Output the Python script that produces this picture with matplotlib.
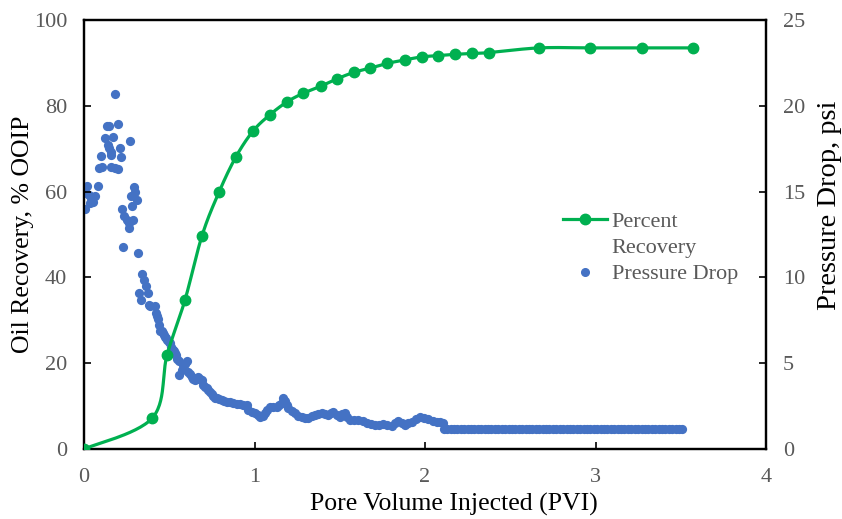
import numpy as np
import matplotlib
matplotlib.use('Agg')
import matplotlib.pyplot as plt
from matplotlib.lines import Line2D

# Percent recovery (left axis)
rec_pv = [0.0, 0.40, 0.487, 0.592, 0.692, 0.792, 0.891, 0.991, 1.09, 1.19, 1.285,
          1.39, 1.485, 1.583, 1.68, 1.78, 1.883, 1.98, 2.078, 2.176, 2.275, 2.373,
          2.67, 2.97, 3.27, 3.57]
rec_pct = [0.0, 7.2, 21.9, 34.7, 49.7, 59.9, 68.1, 74.1, 77.9, 80.9, 82.9,
           84.6, 86.3, 87.8, 88.8, 89.9, 90.7, 91.4, 91.7, 92.0, 92.2, 92.4,
           93.5, 93.5, 93.5, 93.5]

# Pressure drop (right axis), noisy part
dp_pv = [0.0, 0.006, 0.012, 0.019, 0.028, 0.035, 0.041, 0.051, 0.066, 0.080,
         0.090, 0.101, 0.106, 0.123, 0.135, 0.147, 0.139, 0.148, 0.158, 0.160,
         0.158, 0.172, 0.184, 0.198, 0.184, 0.201, 0.211, 0.219, 0.272, 0.223,
         0.236, 0.250, 0.266, 0.289, 0.262, 0.276, 0.282, 0.295, 0.301, 0.311,
         0.230, 0.315, 0.340, 0.354, 0.364, 0.374, 0.324, 0.334, 0.379, 0.390,
         0.418, 0.422, 0.436, 0.446, 0.462, 0.475, 0.489, 0.504, 0.514, 0.530,
         0.540, 0.547, 0.559, 0.602, 0.582, 0.573, 0.559, 0.612, 0.632, 0.651,
         0.670, 0.690, 0.700, 0.720, 0.739, 0.758, 0.778, 0.808, 0.837, 0.876,
         0.915, 0.954, 0.964, 1.003, 1.032, 1.062, 1.091, 1.130, 1.160, 1.179,
         1.198, 1.238, 1.277, 1.316, 1.355, 1.394, 1.433, 1.462, 1.501, 1.531,
         1.560, 1.609, 1.658, 1.707, 1.755, 1.805, 1.843, 1.883, 1.922, 1.971,
         2.019, 2.069, 2.107,
         0.430, 0.440, 0.455, 0.468, 0.482, 0.497, 0.510, 0.522, 0.535, 0.590,
         0.620, 0.640, 0.660, 0.680, 0.710, 0.730, 0.750, 0.770, 0.790, 0.820,
         0.855, 0.895, 0.935, 0.985, 1.018, 1.047, 1.076, 1.110, 1.145, 1.170,
         1.190, 1.218, 1.258, 1.297, 1.335, 1.375, 1.414, 1.448, 1.482, 1.516,
         1.545, 1.585, 1.634, 1.683, 1.731, 1.780, 1.824, 1.863, 1.902, 1.946,
         1.995, 2.044, 2.088]
dp_psi = [0.0, 13.97, 14.90, 15.33, 14.80, 14.32, 14.61, 14.41, 14.74, 15.33,
          16.36, 17.07, 16.42, 18.11, 18.84, 18.84, 17.72, 17.52, 17.33, 17.13,
          16.45, 18.16, 16.36, 16.30, 20.69, 18.94, 17.52, 17.02, 17.97, 13.97,
          13.58, 13.35, 13.15, 13.35, 12.86, 14.74, 14.16, 15.29, 14.99, 14.51,
          11.75, 11.40, 10.20, 9.85, 9.50, 9.11, 9.07, 8.68, 8.39, 8.36,
          8.33, 7.91, 7.56, 6.89, 6.78, 6.54, 6.35, 6.16, 5.81, 5.73,
          5.48, 5.23, 5.15, 5.15, 4.90, 4.60, 4.31, 4.50, 4.18, 4.02,
          4.18, 4.02, 3.73, 3.54, 3.34, 3.09, 2.95, 2.86, 2.76, 2.66,
          2.62, 2.56, 2.27, 2.08, 1.88, 2.08, 2.47, 2.47, 2.66, 2.81,
          2.37, 2.08, 1.88, 1.79, 1.98, 2.08, 1.98, 2.17, 1.88, 2.12,
          1.69, 1.69, 1.53, 1.40, 1.46, 1.34, 1.65, 1.40, 1.59, 1.85,
          1.73, 1.59, 1.53,
          7.75, 7.20, 6.85, 6.65, 6.45, 6.25, 5.95, 5.77, 5.60, 4.95,
          4.35, 4.10, 4.10, 4.10, 3.62, 3.45, 3.20, 3.00, 2.90, 2.82,
          2.72, 2.64, 2.58, 2.15, 1.98, 1.95, 2.30, 2.42, 2.55, 2.95,
          2.55, 2.20, 1.95, 1.82, 1.90, 2.05, 2.02, 2.10, 1.98, 2.02,
          1.85, 1.70, 1.62, 1.45, 1.42, 1.40, 1.50, 1.52, 1.50, 1.72,
          1.80, 1.66, 1.55]

# Pressure drop, steady part after ~2.1 PVI
flat_pv = [2.11, 2.13, 2.15, 2.17, 2.19, 2.21, 2.23, 2.25, 2.27, 2.29,
           2.31, 2.33, 2.35, 2.37, 2.39, 2.41, 2.43, 2.45, 2.47, 2.49,
           2.51, 2.53, 2.55, 2.57, 2.59, 2.61, 2.63, 2.65, 2.67, 2.69,
           2.71, 2.73, 2.75, 2.77, 2.79, 2.81, 2.83, 2.85, 2.87, 2.89,
           2.91, 2.93, 2.95, 2.97, 2.99, 3.01, 3.03, 3.05, 3.07, 3.09,
           3.11, 3.13, 3.15, 3.17, 3.19, 3.21, 3.23, 3.25, 3.27, 3.29,
           3.31, 3.33, 3.35, 3.37, 3.39, 3.41, 3.43, 3.45, 3.47, 3.49, 3.51]
flat_psi = [1.15] * len(flat_pv)

green = '#00B050'
blue = '#4472C4'
grey = '#595959'


def smooth(x, y, sx, sy, n=30):
    # Excel-style smoothed line (Catmull-Rom Bezier) in screen-like units
    p = np.column_stack([np.asarray(x) * sx, np.asarray(y) * sy])
    out = []
    for i in range(len(p) - 1):
        p0 = p[max(i - 1, 0)]
        p1 = p[i]
        p2 = p[i + 1]
        p3 = p[min(i + 2, len(p) - 1)]
        c1 = p1 + (p2 - p0) / 6.0
        c2 = p2 - (p3 - p1) / 6.0
        t = np.linspace(0, 1, n)[:, None]
        seg = ((1 - t) ** 3) * p1 + 3 * ((1 - t) ** 2) * t * c1 + 3 * (1 - t) * t ** 2 * c2 + t ** 3 * p2
        out.append(seg)
    out = np.vstack(out)
    return out[:, 0] / sx, out[:, 1] / sy


plt.rcParams['font.family'] = ['Liberation Serif', 'DejaVu Serif']

fig = plt.figure(figsize=(8.42, 5.19), dpi=100)
ax = fig.add_axes([84 / 842, 1 - 449 / 519, 682 / 842, 429 / 519])
ax2 = ax.twinx()

ax2.scatter(dp_pv, dp_psi, s=44, color=blue, linewidths=0, zorder=3)
ax2.scatter(flat_pv, flat_psi, s=44, color=blue, linewidths=0, zorder=3)

sx_, sy_ = smooth(rec_pv, rec_pct, 170.5, 4.29)
ax.plot(sx_, sy_, color=green, lw=2.3, solid_capstyle='round', zorder=3)
ax.plot(rec_pv, rec_pct, 'o', color=green, ms=7.5, zorder=4)

ax.set_zorder(ax2.get_zorder() + 1)
ax.patch.set_visible(False)

ax.set_xlim(0, 4)
ax.set_ylim(0, 100)
ax2.set_ylim(0, 25)
ax.set_xticks([0, 1, 2, 3, 4])
ax.set_yticks(np.arange(0, 101, 20))
ax2.set_yticks(np.arange(0, 26, 5))

for a in (ax, ax2):
    for sp in a.spines.values():
        sp.set_linewidth(1.6)
        sp.set_color('black')
    a.tick_params(direction='in', length=5, width=1.2, labelsize=16, labelcolor=grey, color='black', pad=12)
ax.tick_params(axis='x', pad=14)

ax.set_xlabel('Pore Volume Injected (PVI)', fontsize=18.5, labelpad=4)
ax.xaxis.label.set_x(0.543)
ax.set_ylabel('Oil Recovery, % OOIP', fontsize=18.5, labelpad=0)
ax2.set_ylabel('Pressure Drop, psi', fontsize=20.5, labelpad=9)
ax2.yaxis.label.set_y(0.569)

handles = [Line2D([], [], color=green, lw=2.3, marker='o', ms=7.5),
           Line2D([], [], linestyle='none'),
           Line2D([], [], color=blue, lw=0, marker='o', ms=5.5)]
leg = ax.legend(handles, ['Percent', 'Recovery', 'Pressure Drop'], loc='upper left',
                bbox_to_anchor=(0.689, 0.574), frameon=False, fontsize=16,
                handlelength=2.0, labelcolor=grey, handletextpad=0.2,
                labelspacing=0.25, borderaxespad=0)

fig.savefig('out.png', dpi=100)
